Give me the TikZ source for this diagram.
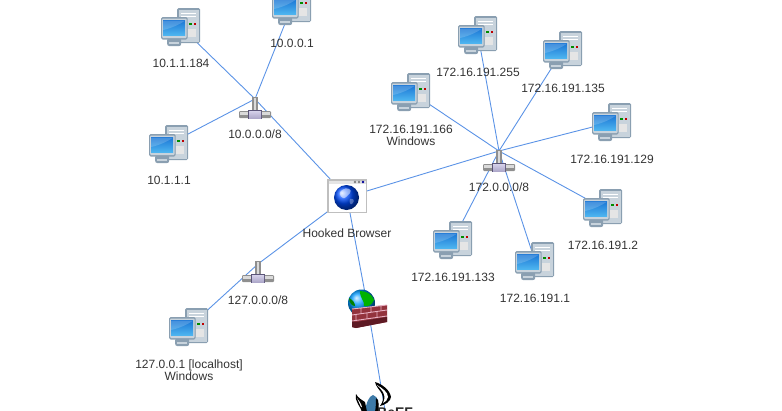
\documentclass[tikz,border=0pt]{standalone}
\usepackage{fontspec}
\setmainfont{Liberation Sans}
\definecolor{edgeblue}{HTML}{5B93E6}
\definecolor{txt}{HTML}{333333}
\definecolor{casefill}{HTML}{C8D3DC}
\definecolor{caseline}{HTML}{8A9FB1}
\definecolor{screentop}{HTML}{1C78D6}
\definecolor{screenbot}{HTML}{4FB6F0}
\definecolor{brick}{HTML}{93333D}
\definecolor{brickdark}{HTML}{5E1A24}
\definecolor{mortar}{HTML}{E7B0C2}
\definecolor{hubgray}{HTML}{8F8F8F}
\definecolor{hublight}{HTML}{DADADA}
\definecolor{hubviolet}{HTML}{B9B2DC}
\definecolor{hubdark}{HTML}{5A5478}
\definecolor{beefblue}{HTML}{3D7AA8}
\tikzset{
  x=1pt,y=-1pt,
  anchorpt/.style={inner sep=0pt,minimum size=0pt},
  lab/.style={font=\fontsize{12}{12}\selectfont,text=txt,inner sep=0pt,align=center},
  conn/.style={edgeblue,line width=0.9pt},
  pics/computer/.style={code={
    \fill[caseline,rounded corners=1.5pt] (-3,-19) rectangle (20,16);
    \fill[casefill] (-1.5,-17.5) rectangle (18.5,14.5);
    \draw[white,line width=.8pt] (1,-14) -- (16,-14) (1,-10.5) -- (16,-10.5);
    \fill[green!55!black] (9,-4.5) rectangle (11.5,-2);
    \fill[red!75!black] (13.5,-4.5) rectangle (16,-2);
    \fill[white!80!gray] (8,2) rectangle (16,10);
    \fill[caseline,rounded corners=2pt] (-13,11) rectangle (1,19);
    \fill[casefill] (-11,15) rectangle (-1,17);
    \fill[caseline,rounded corners=1.5pt] (-19,-10) rectangle (7.5,12.5);
    \fill[casefill,rounded corners=1pt] (-18,-8.5) rectangle (6.5,11);
    \shade[top color=screentop,bottom color=screenbot] (-17,-6.5) rectangle (5,8.5);
    \fill[white,opacity=.18] (-17,3) .. controls (-8,1) and (0,-3) .. (5,-6.5) -- (-17,-6.5) -- cycle;
  }},
  pics/hub/.style={code={
    \fill[hubgray] (-3,-15) rectangle (3,0);
    \fill[hublight] (-1.5,-14) rectangle (1,0);
    \fill[hubgray,rounded corners=1pt] (-16,-1) rectangle (16,6);
    \fill[hublight] (-15,0) rectangle (15,3);
    \fill[hubdark] (-7,-2) rectangle (7,7);
    \shade[top color=hubviolet!60!white,bottom color=hubviolet!80!gray] (-6,-1) rectangle (6,6);
  }},
  pics/browser/.style={code={
    \fill[gray!50] (-20,-17) rectangle (20,17);
    \fill[white] (-18.5,-12.5) rectangle (18.5,15.5);
    \fill[gray!20] (-18.5,-15.5) rectangle (18.5,-12.5);
    \fill[blue!60!black] (16,-14) circle (1.3);
    \fill[gray] (12,-14) circle (1.3) (8,-14) circle (1.3);
    \shade[ball color=blue!70!cyan] (-0.5,1.5) circle (12.5);
    \fill[white,opacity=.5] (-5,-6) .. controls (0,-10) and (6,-6) .. (3,-3)
      .. controls (0,0) and (-2,3) .. (-4,2) .. controls (-8,0) and (-8,-4) .. (-5,-6) -- cycle;
    \fill[white,opacity=.3] (3,3) .. controls (7,2) and (8,5) .. (5,8) .. controls (3,9) and (2,6) .. (3,3) -- cycle;
  }},
  pics/firewall/.style={code={
    \shade[ball color=cyan!60!blue] (-6.5,-6) circle (13.5);
    \fill[green!70!black] (-8,-18) .. controls (-2,-18) and (4,-15) .. (6,-9)
      .. controls (4,-3) and (-2,-2) .. (-4,-3) .. controls (-3,-8) and (-8,-10) .. (-8,-18) -- cycle;
    \fill[green!50!black] (-19,-11) .. controls (-15,-9) and (-13,-6) .. (-13,-3) .. controls (-16,-3) and (-19,-6) .. (-19,-11) -- cycle;
    \fill[brick] (-16,0) -- (19,-4) -- (19,13) -- (-12,19) -- (-16,18) -- cycle;
    \fill[brickdark] (-16,12) -- (-12,13) -- (19,8) -- (19,13) -- (-12,19) -- (-16,18) -- cycle;
    \draw[mortar,line width=.9pt]
      (-16,6) -- (19,1) (-16,12) -- (19,7)
      (-16,0) -- (19,-4)
      (-7,-1) -- (-7,5) (3,-2) -- (3,3.5) (13,-3) -- (13,2)
      (-12,6) -- (-12,11.5) (-1,4.5) -- (-1,10) (9,3) -- (9,8.5);
  }},
  pics/beeflogo/.style={code={
    \fill[black] (-10,-28) .. controls (-3,-26) and (5,-20) .. (6,-13)
      .. controls (6,-9) and (0,-5) .. (-5,-4) .. controls (-2,-8) and (-1,-12) .. (-3,-16)
      .. controls (-5,-20) and (-9,-23) .. (-10,-28) -- cycle;
    \fill[white] (-8,-25) .. controls (-3,-22) and (3,-18) .. (3,-13)
      .. controls (3,-10) and (0,-8) .. (-2,-7) .. controls (0,-11) and (0,-14) .. (-2,-18)
      .. controls (-4,-21) and (-6,-23) .. (-8,-25) -- cycle;
    \fill[beefblue] (-20,2) .. controls (-19,-7) and (-16,-14) .. (-12,-15)
      .. controls (-9,-14) and (-8,-12) .. (-7,-10) -- (-8,2) -- cycle;
    \fill[black] (-29,-16) .. controls (-27,-12) and (-23,-10) .. (-20,-8)
      -- (-18,2) -- (-23,2) .. controls (-24,-3) and (-31,-9) .. (-29,-16) -- cycle;
    \fill[white] (-28,-12) .. controls (-26,-9) and (-24,-7) .. (-23,-3) -- (-24,-3) -- cycle;
    \fill[black] (-7,-10) .. controls (-6,-7) and (-6,-4) .. (-7,2) -- (-10,2) .. controls (-9,-4) and (-9,-7) .. (-9,-12) -- cycle;
  }}
}
\begin{document}
\begin{tikzpicture}
\useasboundingbox (0,0) rectangle (782,410);
\clip (0,0) rectangle (782,410);
% named positions
\node[anchorpt] (c184) at (181,27) {};
\node[anchorpt] (c001) at (292,6) {};
\node[anchorpt] (c111) at (169,144) {};
\node[anchorpt] (c255) at (478,35) {};
\node[anchorpt] (c135) at (563,50) {};
\node[anchorpt] (c166) at (411,92) {};
\node[anchorpt] (c129) at (612,122) {};
\node[anchorpt] (c2) at (603,208) {};
\node[anchorpt] (c1) at (535,261) {};
\node[anchorpt] (c133) at (453,240) {};
\node[anchorpt] (c127) at (189,327) {};
\node[anchorpt] (s10) at (255,99) {};
\node[anchorpt] (s172) at (499,151) {};
\node[anchorpt] (s127) at (258,264) {};
\node[anchorpt] (hb) at (347,197) {};
\node[anchorpt] (fw) at (368,309) {};
\node[anchorpt] (beef) at (385,410) {};
% connectors
\draw[conn] (c184)--(s10) (c001)--(s10) (c111)--(s10) (s10)--(hb);
\draw[conn] (c255)--(s172) (c135)--(s172) (c166)--(s172) (c129)--(s172)
  (c2)--(s172) (c1)--(s172) (c133)--(s172) (s172)--(hb);
\draw[conn] (c127)--(s127) (s127)--(hb);
\draw[conn] (hb)--(fw) (fw)--(beef);
% icons
\foreach \n in {c184,c001,c111,c255,c135,c166,c129,c2,c1,c133,c127}{\pic at ([xshift=-.8pt]\n) {computer};}
\pic at ([yshift=-13pt]s10) {hub};
\pic at ([yshift=-14pt]s172) {hub};
\pic at ([yshift=-12pt]s127) {hub};
\pic at ([yshift=1pt]hb) {browser};
\pic at (fw) {firewall};
\pic at (beef) {beeflogo};
% labels
\node[lab] (l184) at (181,63) {10.1.1.184};
\node[lab] (l001) at (292,43) {10.0.0.1};
\node[lab] (l111) at (169,180) {10.1.1.1};
\node[lab] (l255) at (478,72) {172.16.191.255};
\node[lab] (l135) at (563,88) {172.16.191.135};
\node[lab] (l166) at (411,135) {172.16.191.166\\Windows};
\node[lab] (l129) at (612,159) {172.16.191.129};
\node[lab] (l2) at (603,245) {172.16.191.2};
\node[lab] (l1) at (535,298) {172.16.191.1};
\node[lab] (l133) at (453,277) {172.16.191.133};
\node[lab] (l127) at (189,370) {127.0.0.1 [localhost]\\Windows};
\node[lab] (ls10) at (255,134) {10.0.0.0/8};
\node[lab] (ls172) at (499,187) {172.0.0.0/8};
\node[lab] (ls127) at (258,300) {127.0.0.0/8};
\node[lab] (lhb) at (347,233) {Hooked Browser};
\node[font=\bfseries\fontsize{14}{14}\selectfont,text=black!85,inner sep=0pt,anchor=base west] (lbeef) at (377,417) {BeEF};
\end{tikzpicture}
\end{document}
